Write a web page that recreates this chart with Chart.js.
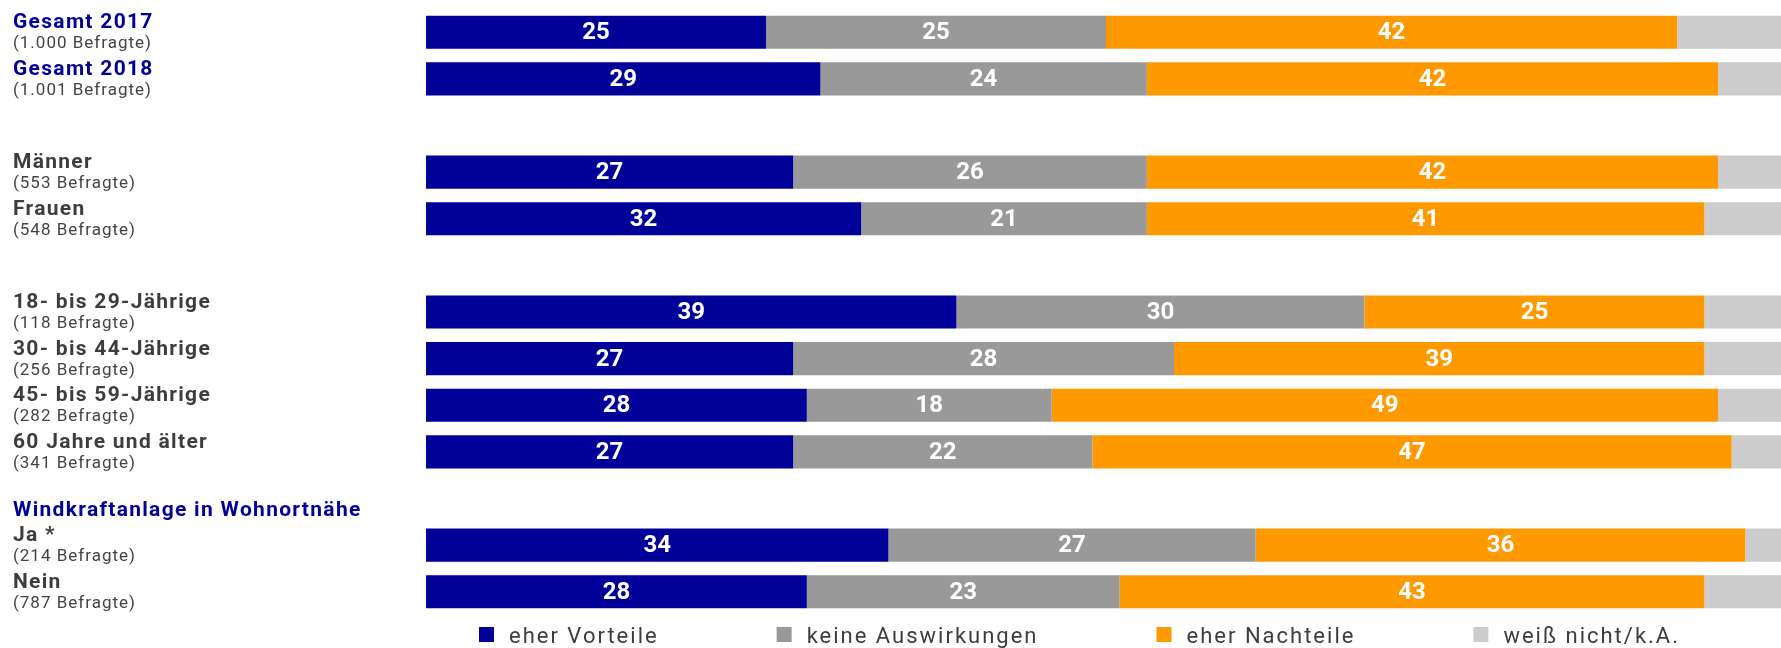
<!DOCTYPE html>
<html>
<head>
<meta charset="utf-8">
<script src="https://cdn.jsdelivr.net/npm/chart.js@4"></script>
<style>
  body { margin: 0; background: #fff; }
  #wrap { width: 1781px; height: 648px; }
</style>
</head>
<body>
<div id="wrap"><canvas id="chart" width="1781" height="648"></canvas></div>
<script>
// rows of the chart, empty strings are spacer rows
const rowTitles = [
    "Gesamt 2017", "Gesamt 2018", "",
    "Männer", "Frauen", "",
    "18- bis 29-Jährige", "30- bis 44-Jährige", "45- bis 59-Jährige", "60 Jahre und älter",
    "Windkraftanlage in Wohnortnähe", "Ja *", "Nein",
];
const rowCounts = [
    "(1.000 Befragte)", "(1.001 Befragte)", "",
    "(553 Befragte)", "(548 Befragte)", "",
    "(118 Befragte)", "(256 Befragte)", "(282 Befragte)", "(341 Befragte)",
    "", "(214 Befragte)", "(787 Befragte)",
];
const blueRows = ["Gesamt 2017", "Gesamt 2018", "Windkraftanlage in Wohnortnähe"];

const seriesNames = ["eher Vorteile", "keine Auswirkungen", "eher Nachteile", "weiß nicht/k.A."];
const eherVorteile      = [25, 29, null, 27, 32, null, 39, 27, 28, 27, null, 34, 28];
const keineAuswirkungen = [25, 24, null, 26, 21, null, 30, 28, 18, 22, null, 27, 23];
const eherNachteile     = [42, 42, null, 42, 41, null, 25, 39, 49, 47, null, 36, 43];
const weissNicht        = [ 8,  5, null,  5,  6, null,  6,  6,  5,  4, null,  3,  6];

const colors = ["#000099", "#999999", "#ff9900", "#cccccc"];
const labelledSeries = 3; // the first three series show their values

const ctx = document.getElementById("chart");

const rowLabels = {
    id: "rowLabels",
    afterDraw(chart) {
        const c = chart.ctx;
        const y = chart.scales.y;
        c.save();
        c.textAlign = "left";
        c.textBaseline = "alphabetic";
        rowTitles.forEach((t, i) => {
            if (!t) return;
            const cy = y.getPixelForValue(i);
            const heading = !rowCounts[i];
            c.font = "bold 21px Roboto";
            c.letterSpacing = "1.3px";
            c.fillStyle = blueRows.includes(t) ? "#000099" : "#3d3d3d";
            c.fillText(t, 13, heading ? cy + 18 : cy - 4);
            if (!heading) {
                c.font = "17px Roboto";
                c.letterSpacing = "1px";
                c.fillStyle = "#444444";
                c.fillText(rowCounts[i], 13, cy + 16);
            }
        });
        c.restore();
    },
};

const valueLabels = {
    id: "valueLabels",
    afterDatasetsDraw(chart) {
        const c = chart.ctx;
        c.save();
        c.font = "bold 24px Roboto";
        c.fillStyle = "#ffffff";
        c.textAlign = "center";
        c.textBaseline = "middle";
        for (let d = 0; d < labelledSeries; d++) {
            const meta = chart.getDatasetMeta(d);
            meta.data.forEach((bar, i) => {
                const v = chart.data.datasets[d].data[i];
                if (v == null) return;
                c.fillText(String(v), (bar.x + bar.base) / 2, bar.y + 1);
            });
        }
        c.restore();
    },
};

const bottomLegend = {
    id: "bottomLegend",
    afterDraw(chart) {
        const c = chart.ctx;
        c.save();
        c.font = "22px Roboto";
        c.letterSpacing = "2px";
        c.textAlign = "left";
        c.textBaseline = "alphabetic";
        let x = 479;
        chart.data.datasets.forEach((ds) => {
            c.fillStyle = ds.backgroundColor;
            c.fillRect(x, 627, 15, 15);
            c.fillStyle = "#3d3d3d";
            c.fillText(ds.label, x + 30, 643);
            x += 30 + c.measureText(ds.label).width + 118;
        });
        c.restore();
    },
};

const seriesData = [eherVorteile, keineAuswirkungen, eherNachteile, weissNicht];

new Chart(ctx, {
    type: "bar",
    data: {
        labels: rowTitles,
        datasets: seriesNames.map((name, i) => ({
            label: name,
            data: seriesData[i],
            backgroundColor: colors[i],
            borderWidth: 0,
            categoryPercentage: 1,
            barPercentage: 0.71,
        })),
    },
    options: {
        indexAxis: "y",
        responsive: false,
        animation: false,
        layout: {
            padding: { left: 426, right: 0, top: 9, bottom: 33 },
        },
        scales: {
            x: { stacked: true, display: false, min: 0, max: 99.63 },
            y: { stacked: true, display: false },
        },
        plugins: {
            legend: { display: false },
            tooltip: { enabled: false },
        },
    },
    plugins: [rowLabels, valueLabels, bottomLegend],
});
</script>
</body>
</html>
